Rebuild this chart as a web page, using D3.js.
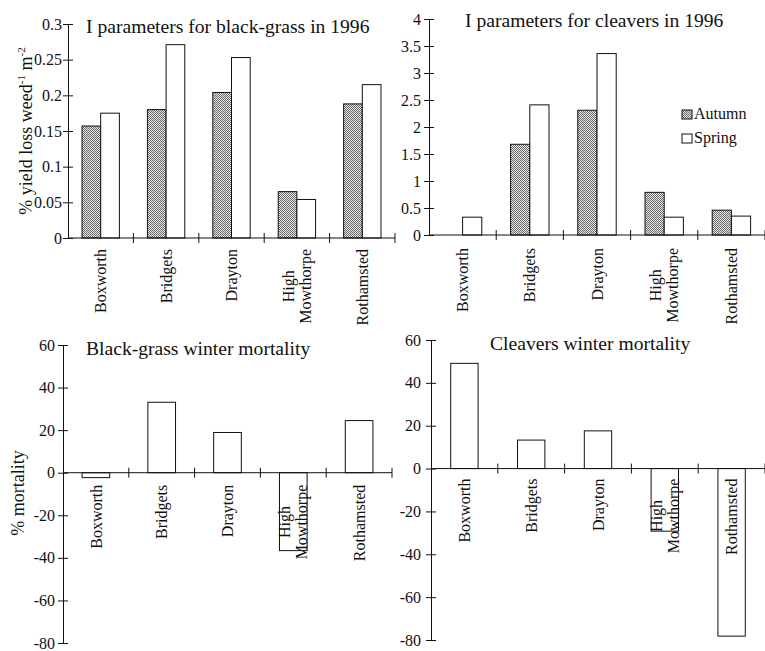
<!DOCTYPE html>
<html>
<head>
<meta charset="utf-8">
<script src="https://cdn.jsdelivr.net/npm/d3@7"></script>
<style>
  body { margin: 0; background: #fff; }
  text { font-family: "Liberation Serif", "Times New Roman", serif; fill: #111; }
</style>
</head>
<body>
<script>
  // site names (multi-line where the chart wraps them)
  let sites = ["Boxworth", "Bridgets", "Drayton", "High Mowthorpe", "Rothamsted"];
  let siteLines = [["Boxworth"], ["Bridgets"], ["Drayton"], ["High", "Mowthorpe"], ["Rothamsted"]];
  let seasons = ["Autumn", "Spring"];

  // I parameters, % yield loss weed-1 m-2
  let bgAutumn = [0.157, 0.180, 0.204, 0.065, 0.188];
  let bgSpring = [0.175, 0.271, 0.253, 0.054, 0.215];
  let clAutumn = [0, 1.68, 2.31, 0.79, 0.46];
  let clSpring = [0.33, 2.41, 3.36, 0.33, 0.35];

  // winter mortality, %
  let bgMortality = [-2.3, 33.1, 18.9, -36.6, 24.5];
  let clMortality = [49.1, 13.3, 17.6, -29.2, -78.2];

  let bgTicks = [0, 0.05, 0.1, 0.15, 0.2, 0.25, 0.3];
  let clTicks = [0, 0.5, 1, 1.5, 2, 2.5, 3, 3.5, 4];
  let mortTicks = [-80, -60, -40, -20, 0, 20, 40, 60];

  let width = 765, height = 651;
  let svg = d3.select("body").append("svg")
    .attr("width", width).attr("height", height);
  svg.append("rect").attr("width", width).attr("height", height).style("fill", "#fff");

  // stippled fill for the autumn bars
  let pat = svg.append("defs").append("pattern")
    .attr("id", "dots").attr("patternUnits", "userSpaceOnUse")
    .attr("width", 2).attr("height", 2);
  pat.append("rect").attr("width", 2).attr("height", 2).attr("fill", "#e6e6e6");
  pat.append("rect").attr("width", 1).attr("height", 1).attr("fill", "#6a6a6a");
  pat.append("rect").attr("x", 1).attr("y", 1).attr("width", 1).attr("height", 1).attr("fill", "#6a6a6a");

  function fmt(d) { return String(d); }

  function drawPanel(p) {
    let g = svg.append("g");
    let x = d3.scaleBand().domain(sites).range(p.xRange).padding(0);
    let y = d3.scaleLinear().domain(p.yDomain).range(p.yRange);
    let inner = d3.scaleBand().domain(p.series.map(s => s.name))
      .range([0, x.bandwidth()]).paddingInner(0).paddingOuter(p.outerPad);

    // bars
    p.series.forEach(function(s) {
      g.append("g").selectAll("rect")
        .data(s.values)
        .enter().append("rect")
        .attr("x", (d, i) => x(sites[i]) + inner(s.name))
        .attr("y", d => y(Math.max(0, d)))
        .attr("width", inner.bandwidth())
        .attr("height", d => Math.abs(y(d) - y(0)))
        .attr("fill", s.fill)
        .attr("stroke", d => d === 0 ? "none" : "#111")
        .attr("stroke-width", 1);
    });

    // y axis, ticks crossing the line
    let ya = g.append("g")
      .attr("transform", "translate(" + p.xRange[0] + ",0)")
      .call(d3.axisLeft(y).tickValues(p.ticks).tickFormat(fmt).tickSize(5).tickSizeOuter(0))
      .attr("font-family", null)
      .attr("font-size", null);
    ya.select(".domain").attr("stroke", "#111");
    ya.selectAll(".tick line").attr("x1", 5).attr("stroke", "#111");
    ya.selectAll(".tick text")
      .attr("x", -p.labelGap)
      .attr("fill", "#111")
      .style("font-size", "16px");

    // x axis line at zero with band-boundary ticks
    let y0 = y(0);
    g.append("line")
      .attr("x1", p.xRange[0]).attr("x2", p.xRange[1])
      .attr("y1", y0).attr("y2", y0)
      .attr("stroke", "#111");
    g.append("g").selectAll("line")
      .data(sites)
      .enter().append("line")
      .attr("x1", d => x(d) + x.step()).attr("x2", d => x(d) + x.step())
      .attr("y1", y0 - 5).attr("y2", y0 + 5)
      .attr("stroke", "#111");

    // rotated category labels
    sites.forEach(function(s, i) {
      let lines = siteLines[i];
      let cx = x(s) + x.bandwidth() / 2;
      let lg = g.append("g")
        .attr("transform", "translate(" + cx + "," + (y0 + p.catGap) + ") rotate(-90)");
      let texts = lines.map(function(t, j) {
        return lg.append("text")
          .attr("y", (j - (lines.length - 1) / 2) * 17)
          .attr("dy", "0.35em")
          .style("font-size", "16px")
          .text(t);
      });
      let maxLen = d3.max(texts, t => t.node().getComputedTextLength());
      texts.forEach(t => t.attr("x", -maxLen / 2).attr("text-anchor", "middle"));
    });

    // title
    g.append("text")
      .attr("x", p.titlePos[0]).attr("y", p.titlePos[1])
      .style("font-size", "19.6px")
      .text(p.title);

    return g;
  }

  drawPanel({
    xRange: [68, 395], yRange: [238, 24], yDomain: [0, 0.3], ticks: bgTicks,
    series: [{ name: "Autumn", values: bgAutumn, fill: "url(#dots)" },
             { name: "Spring", values: bgSpring, fill: "#fff" }],
    outerPad: 0.75, labelGap: 6, catGap: 11,
    title: "I parameters for black-grass in 1996", titlePos: [86, 33]
  });

  drawPanel({
    xRange: [429, 765], yRange: [235, 19], yDomain: [0, 4], ticks: clTicks,
    series: [{ name: "Autumn", values: clAutumn, fill: "url(#dots)" },
             { name: "Spring", values: clSpring, fill: "#fff" }],
    outerPad: 0.75, labelGap: 8, catGap: 13,
    title: "I parameters for cleavers in 1996", titlePos: [465, 27]
  });

  drawPanel({
    xRange: [63, 392], yRange: [643, 345], yDomain: [-80, 60], ticks: mortTicks,
    series: [{ name: "Mortality", values: bgMortality, fill: "#fff" }],
    outerPad: 0.69, labelGap: 8, catGap: 12,
    title: "Black-grass winter mortality", titlePos: [86, 355]
  });

  drawPanel({
    xRange: [431, 765], yRange: [640, 340], yDomain: [-80, 60], ticks: mortTicks,
    series: [{ name: "Mortality", values: clMortality, fill: "#fff" }],
    outerPad: 0.72, labelGap: 10, catGap: 10,
    title: "Cleavers winter mortality", titlePos: [490, 350]
  });

  // y axis titles
  let yl = svg.append("text")
    .attr("transform", "translate(32,131) rotate(-90)")
    .attr("text-anchor", "middle")
    .style("font-size", "18px");
  yl.append("tspan").text("% yield loss weed");
  yl.append("tspan").attr("dy", -7).style("font-size", "11px").text("-1");
  yl.append("tspan").attr("dy", 7).text(" m");
  yl.append("tspan").attr("dy", -7).style("font-size", "11px").text("-2");

  svg.append("text")
    .attr("transform", "translate(24,493) rotate(-90)")
    .attr("text-anchor", "middle")
    .style("font-size", "18px")
    .text("% mortality");

  // legend for the cleavers panel
  let legend = svg.append("g").selectAll("g")
    .data(seasons)
    .enter().append("g")
    .attr("transform", (d, i) => "translate(682," + (110 + i * 24) + ")");
  legend.append("rect")
    .attr("width", 10).attr("height", 9)
    .attr("fill", (d, i) => i === 0 ? "url(#dots)" : "#fff")
    .attr("stroke", "#111");
  legend.append("text")
    .attr("x", 12).attr("y", 9)
    .style("font-size", "16px")
    .text(d => d);
</script>
</body>
</html>
